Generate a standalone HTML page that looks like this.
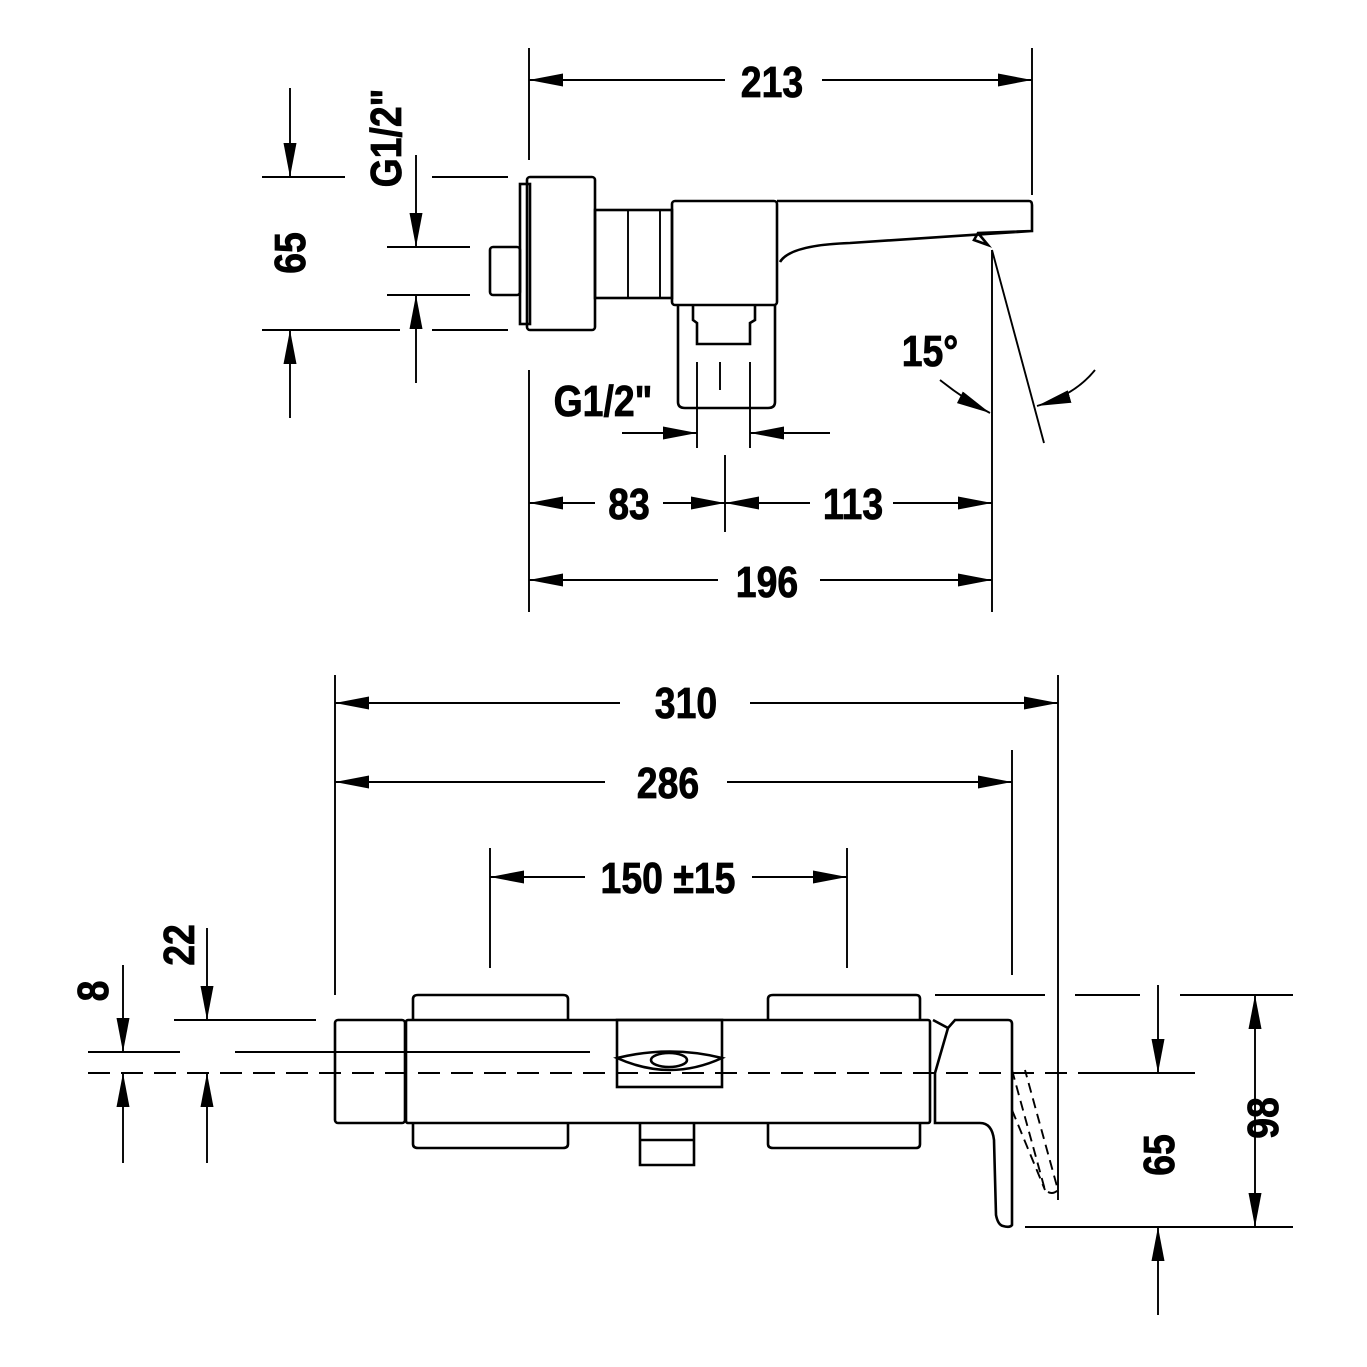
<!DOCTYPE html>
<html><head><meta charset="utf-8"><style>
html,body{margin:0;padding:0;background:#fff}
svg{display:block}
text{font-family:"Liberation Sans",sans-serif;font-weight:bold;fill:#000;stroke:#000;stroke-width:0.8}
</style></head><body>
<svg width="1367" height="1367" viewBox="0 0 1367 1367" xmlns="http://www.w3.org/2000/svg">
<defs>
<marker id="a" viewBox="0 0 34 13" refX="34" refY="6.5" markerWidth="34" markerHeight="13" markerUnits="userSpaceOnUse" orient="auto-start-reverse"><path d="M0,0 L34,6.5 L0,13 Z" fill="#000" stroke="none"/></marker>
</defs>
<g stroke="#000" fill="none" stroke-width="1.9">
<line x1="529" y1="48" x2="529" y2="160"/>
<line x1="1032" y1="48" x2="1032" y2="195"/>
<line x1="529" y1="370" x2="529" y2="612"/>
<line x1="992" y1="250" x2="992" y2="612"/>
<line x1="725" y1="455" x2="725" y2="532"/>
<line x1="262" y1="177" x2="345" y2="177"/>
<line x1="432" y1="177" x2="508" y2="177"/>
<line x1="262" y1="330" x2="400" y2="330"/>
<line x1="432" y1="330" x2="508" y2="330"/>
<line x1="387" y1="247" x2="470" y2="247"/>
<line x1="387" y1="295" x2="470" y2="295"/>
<line x1="529" y1="80" x2="725" y2="80" marker-start="url(#a)"/>
<line x1="822" y1="80" x2="1032" y2="80" marker-end="url(#a)"/>
<line x1="290" y1="88" x2="290" y2="177" marker-end="url(#a)"/>
<line x1="290" y1="330" x2="290" y2="418" marker-start="url(#a)"/>
<line x1="416" y1="155" x2="416" y2="247" marker-end="url(#a)"/>
<line x1="416" y1="295" x2="416" y2="383" marker-start="url(#a)"/>
<line x1="622" y1="433" x2="697" y2="433" marker-end="url(#a)"/>
<line x1="750" y1="433" x2="830" y2="433" marker-start="url(#a)"/>
<line x1="529" y1="503" x2="595" y2="503" marker-start="url(#a)"/>
<line x1="663" y1="503" x2="725" y2="503" marker-end="url(#a)"/>
<line x1="725" y1="503" x2="810" y2="503" marker-start="url(#a)"/>
<line x1="893" y1="503" x2="992" y2="503" marker-end="url(#a)"/>
<line x1="529" y1="580" x2="718" y2="580" marker-start="url(#a)"/>
<line x1="820" y1="580" x2="992" y2="580" marker-end="url(#a)"/>
<line x1="992" y1="250" x2="1044" y2="443"/>
<path d="M940,380 Q965,400 990,413" marker-end="url(#a)"/>
<path d="M1095,370 Q1075,395 1037,406" marker-end="url(#a)"/>
<g stroke-width="2.6">
<rect x="490" y="247" width="30" height="48" rx="3"/>
<rect x="520" y="184" width="10" height="140"/>
<rect x="527" y="177" width="68" height="153" rx="3"/>
<rect x="595" y="210" width="77" height="88"/>
<rect x="672" y="201" width="105" height="104" rx="3"/>
<path d="M777,201 L1029,201 Q1032,201 1032,205 L1032,231 L978,233 L974,240 L988,245 L978,233 M1032,231 L850,243 Q790,245 780,262"/>
<path d="M678,305 L678,402 Q678,408 685,408 L768,408 Q775,408 775,402 L775,305"/>
<path d="M693,305 L693,320 L697,323 L697,344 L750,344 L750,323 L755,320 L755,305"/>
</g>
<line x1="628" y1="210" x2="628" y2="298"/><line x1="660" y1="210" x2="660" y2="298"/>
<line x1="697" y1="362" x2="697" y2="448"/><line x1="750" y1="362" x2="750" y2="448"/><line x1="720" y1="362" x2="720" y2="390"/>

<line x1="335" y1="675" x2="335" y2="995"/>
<line x1="1058" y1="675" x2="1058" y2="1200"/>
<line x1="1012" y1="750" x2="1012" y2="975"/>
<line x1="490" y1="848" x2="490" y2="968"/>
<line x1="847" y1="848" x2="847" y2="968"/>
<line x1="935" y1="995" x2="1045" y2="995"/>
<line x1="1075" y1="995" x2="1140" y2="995"/>
<line x1="1180" y1="995" x2="1293" y2="995"/>
<line x1="1078" y1="1073" x2="1195" y2="1073"/>
<line x1="1025" y1="1227" x2="1293" y2="1227"/>
<line x1="174" y1="1020" x2="316" y2="1020"/>
<line x1="88" y1="1052" x2="180" y2="1052"/>
<line x1="235" y1="1052" x2="590" y2="1052"/>
<line x1="88" y1="1073" x2="1195" y2="1073" stroke-dasharray="22,11"/>
<line x1="335" y1="703" x2="620" y2="703" marker-start="url(#a)"/>
<line x1="750" y1="703" x2="1058" y2="703" marker-end="url(#a)"/>
<line x1="335" y1="782" x2="605" y2="782" marker-start="url(#a)"/>
<line x1="727" y1="782" x2="1012" y2="782" marker-end="url(#a)"/>
<line x1="490" y1="877" x2="585" y2="877" marker-start="url(#a)"/>
<line x1="752" y1="877" x2="847" y2="877" marker-end="url(#a)"/>
<line x1="207" y1="928" x2="207" y2="1020" marker-end="url(#a)"/>
<line x1="207" y1="1073" x2="207" y2="1163" marker-start="url(#a)"/>
<line x1="123" y1="965" x2="123" y2="1052" marker-end="url(#a)"/>
<line x1="123" y1="1073" x2="123" y2="1163" marker-start="url(#a)"/>
<line x1="1158" y1="985" x2="1158" y2="1073" marker-end="url(#a)"/>
<line x1="1158" y1="1227" x2="1158" y2="1315" marker-start="url(#a)"/>
<line x1="1255" y1="995" x2="1255" y2="1227" marker-start="url(#a)" marker-end="url(#a)"/>
<g stroke-width="2.6">
<rect x="335" y="1020" width="70" height="103" rx="3"/>
<rect x="406" y="1020" width="524" height="103" rx="2"/>
<path d="M413,1020 L413,999 Q413,995 418,995 L563,995 Q568,995 568,999 L568,1020"/>
<path d="M768,1020 L768,999 Q768,995 773,995 L916,995 Q920,995 920,999 L920,1020"/>
<path d="M413,1123 L413,1144 Q413,1148 418,1148 L563,1148 Q568,1148 568,1144 L568,1123"/>
<path d="M768,1123 L768,1144 Q768,1148 773,1148 L916,1148 Q920,1148 920,1144 L920,1123"/>
<rect x="617" y="1020" width="105" height="67"/>
<path d="M640,1123 L640,1165 L694,1165 L694,1123 M640,1140 L694,1140"/>
<path d="M617,1058 Q670,1045 722,1058 Q670,1082 617,1058 Z"/>
<ellipse cx="669" cy="1060" rx="18" ry="7"/>
<path d="M933,1020 L948,1028 L955,1020 L1008,1020 Q1012,1020 1012,1024 L1012,1225 Q1010,1228 1003,1226 Q998,1225 996,1215 L994,1140 Q992,1123 980,1123 L935,1123 L935,1073 L948,1028"/>
</g>
<path d="M1012,1070 L1045,1190 Q1052,1196 1058,1190 L1025,1070 M1012,1110 L1045,1190" stroke-dasharray="10,6"/>
</g>
<g font-size="44">
<text x="772" y="97" text-anchor="middle" transform="translate(772,97) scale(0.85,1) translate(-772,-97)">213</text>
<text x="629" y="519" text-anchor="middle" transform="translate(629,519) scale(0.85,1) translate(-629,-519)">83</text>
<text x="853" y="519" text-anchor="middle" transform="translate(853,519) scale(0.85,1) translate(-853,-519)">113</text>
<text x="767" y="597" text-anchor="middle" transform="translate(767,597) scale(0.85,1) translate(-767,-597)">196</text>
<text x="930" y="366" text-anchor="middle" transform="translate(930,366) scale(0.85,1) translate(-930,-366)">15°</text>
<text x="603" y="416" text-anchor="middle" transform="translate(603,416) scale(0.85,1) translate(-603,-416)">G1/2"</text>
<text text-anchor="middle" transform="translate(305,253) rotate(-90) scale(0.85,1)">65</text>
<text text-anchor="middle" transform="translate(401,138) rotate(-90) scale(0.85,1)">G1/2"</text>
<text x="686" y="718" text-anchor="middle" transform="translate(686,718) scale(0.85,1) translate(-686,-718)">310</text>
<text x="668" y="798" text-anchor="middle" transform="translate(668,798) scale(0.85,1) translate(-668,-798)">286</text>
<text x="668" y="893" text-anchor="middle" transform="translate(668,893) scale(0.85,1) translate(-668,-893)">150 ±15</text>
<text text-anchor="middle" transform="translate(194,945) rotate(-90) scale(0.85,1)">22</text>
<text text-anchor="middle" transform="translate(108,991) rotate(-90) scale(0.85,1)">8</text>
<text text-anchor="middle" transform="translate(1174,1155) rotate(-90) scale(0.85,1)">65</text>
<text text-anchor="middle" transform="translate(1278,1118) rotate(-90) scale(0.85,1)">98</text>
</g>
</svg>
</body></html>
